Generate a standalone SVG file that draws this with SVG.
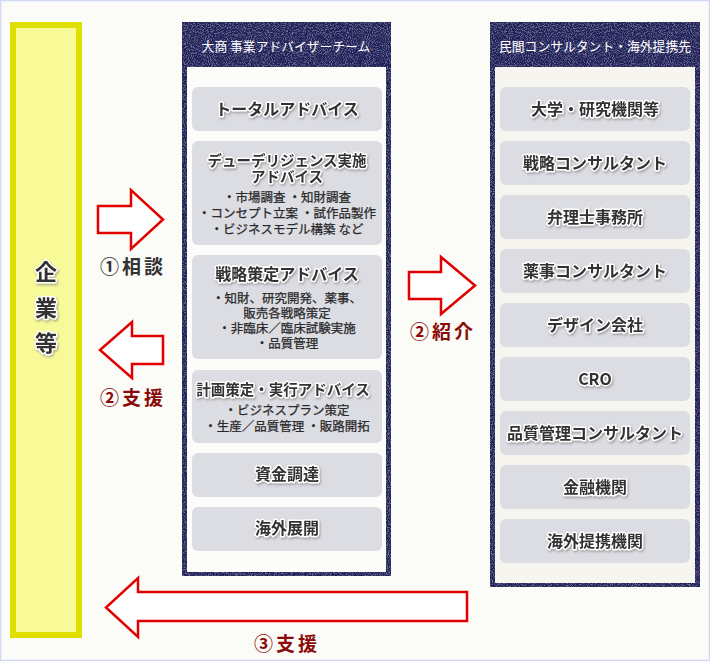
<svg xmlns="http://www.w3.org/2000/svg" width="710" height="661" viewBox="0 0 710 661">
<defs>
<filter id="tex" x="0" y="0" width="100%" height="100%">
<feTurbulence type="fractalNoise" baseFrequency="0.95" numOctaves="2" seed="3" result="n"/>
<feColorMatrix in="n" type="matrix" values="0 0 0 0 0.42  0 0 0 0 0.42  0 0 0 0 0.68  0 0 0 1.3 -0.62" result="m"/>
<feComposite in="m" in2="SourceGraphic" operator="in" result="c"/>
<feMerge><feMergeNode in="SourceGraphic"/><feMergeNode in="c"/></feMerge>
</filter>
<filter id="sh" x="-10%" y="-30%" width="120%" height="160%">
<feDropShadow dx="1" dy="1.5" stdDeviation="1" flood-color="#777" flood-opacity="0.6"/>
</filter>
<style>
.frame{fill:#22225a;filter:url(#tex)}
.box{fill:#dcdce3}
.t{font-family:"Noto Sans CJK JP","Noto Sans CJK SC",sans-serif;font-weight:bold;font-size:16px;fill:#333;stroke:#fff;stroke-width:3;stroke-linejoin:round;paint-order:stroke;text-anchor:middle;filter:url(#sh)}
.s{font-family:"Noto Sans CJK JP","Noto Sans CJK SC",sans-serif;font-size:12.5px;fill:#2a2a2a;stroke:#2a2a2a;stroke-width:0.25;text-anchor:middle}
.h{font-family:"Noto Sans CJK JP","Noto Sans CJK SC",sans-serif;font-size:12.8px;fill:#fff;text-anchor:middle}
.lbl{font-family:"Noto Sans CJK JP","Noto Sans CJK SC",sans-serif;font-weight:bold;font-size:19px;letter-spacing:3px;text-anchor:middle}
.arrow{fill:#fff;stroke:#e00000;stroke-width:2.5;stroke-linejoin:miter}
</style>
</defs>
<rect x="0.5" y="0.5" width="709" height="660" fill="#fbfbf7" stroke="#d2d8f8" stroke-width="1.5"/>

<g id="kigyo">
<rect x="13" y="25" width="66" height="610" fill="#f8fa98" stroke="#e0e000" stroke-width="6"/>
<text class="t" x="46" y="280" style="font-size:22px">企</text>
<text class="t" x="46" y="316" style="font-size:22px">業</text>
<text class="t" x="46" y="351" style="font-size:22px">等</text>
</g>

<g id="daisho">
<rect class="frame" x="182" y="22" width="209" height="554"/>
<rect x="187" y="67" width="199" height="505" fill="#fcfcfa"/>
<text class="h" x="286" y="50.5">大商 事業アドバイザーチーム</text>
</g>

<g id="total"><rect class="box" x="192" y="87" width="190" height="44" rx="6"/>
<text class="t" x="287" y="115">トータルアドバイス</text></g>

<g id="due"><rect class="box" x="192" y="141" width="190" height="104" rx="6"/>
<text class="t" x="287" y="165.5" style="font-size:14.5px">デューデリジェンス実施</text>
<text class="t" x="287" y="181.5" style="font-size:14.5px">アドバイス</text>
<text class="s" x="287" y="202">・市場調査 ・知財調査</text>
<text class="s" x="287" y="218">・コンセプト立案 ・試作品製作</text>
<text class="s" x="287" y="233.5">・ビジネスモデル構築 など</text></g>

<g id="senryaku"><rect class="box" x="192" y="255" width="190" height="104" rx="6"/>
<text class="t" x="287" y="280">戦略策定アドバイス</text>
<text class="s" x="287" y="303">・知財、研究開発、薬事、</text>
<text class="s" x="287" y="317.5">販売各戦略策定</text>
<text class="s" x="287" y="332.5">・非臨床／臨床試験実施</text>
<text class="s" x="287" y="348">・品質管理</text></g>

<g id="keikaku"><rect class="box" x="192" y="370" width="190" height="73" rx="6"/>
<text class="t" x="283" y="395" style="font-size:14.5px">計画策定・実行アドバイス</text>
<text class="s" x="287" y="415">・ビジネスプラン策定</text>
<text class="s" x="287" y="431">・生産／品質管理 ・販路開拓</text></g>

<g id="shikin"><rect class="box" x="192" y="453" width="190" height="44" rx="6"/>
<text class="t" x="287" y="480">資金調達</text></g>

<g id="kaigai"><rect class="box" x="192" y="507" width="190" height="44" rx="6"/>
<text class="t" x="287" y="534">海外展開</text></g>

<g id="minkan">
<rect class="frame" x="490" y="22" width="210" height="565"/>
<rect x="495" y="67" width="200" height="516" fill="#f6f5ef"/>
<text class="h" x="595" y="50.5">民間コンサルタント・海外提携先</text>
</g>

<g id="r1"><rect class="box" x="500" y="87" width="190" height="44" rx="6"/><text class="t" x="595" y="115">大学・研究機関等</text></g>
<g id="r2"><rect class="box" x="500" y="141" width="190" height="44" rx="6"/><text class="t" x="595" y="169">戦略コンサルタント</text></g>
<g id="r3"><rect class="box" x="500" y="195" width="190" height="44" rx="6"/><text class="t" x="595" y="223">弁理士事務所</text></g>
<g id="r4"><rect class="box" x="500" y="249" width="190" height="44" rx="6"/><text class="t" x="595" y="277">薬事コンサルタント</text></g>
<g id="r5"><rect class="box" x="500" y="303" width="190" height="44" rx="6"/><text class="t" x="595" y="331">デザイン会社</text></g>
<g id="r6"><rect class="box" x="500" y="357" width="190" height="44" rx="6"/><text class="t" x="595" y="385">CRO</text></g>
<g id="r7"><rect class="box" x="500" y="411" width="190" height="44" rx="6"/><text class="t" x="595" y="439">品質管理コンサルタント</text></g>
<g id="r8"><rect class="box" x="500" y="465" width="190" height="44" rx="6"/><text class="t" x="595" y="493">金融機関</text></g>
<g id="r9"><rect class="box" x="500" y="519" width="190" height="44" rx="6"/><text class="t" x="595" y="547">海外提携機関</text></g>

<g id="connectors">
<path class="arrow" d="M98,206 L131,206 L131,190 L163,219.5 L131,249 L131,233 L98,233 Z"/>
<text class="lbl" x="133" y="274" fill="#333">①相談</text>
<path class="arrow" d="M163,336 L132,336 L132,322 L100,350 L132,378 L132,364 L163,364 Z"/>
<text class="lbl" x="133" y="405" fill="#8a0a0a">②支援</text>
<path class="arrow" d="M409,272 L441,272 L441,257 L475,285.5 L441,314 L441,299 L409,299 Z"/>
<text class="lbl" x="443" y="339" fill="#8a0a0a">②紹介</text>
<path class="arrow" d="M467,592 L138,592 L138,578 L106,607.5 L138,637 L138,621 L467,621 Z"/>
<text class="lbl" x="287" y="651" fill="#8a0a0a">③支援</text>
</g>
</svg>
